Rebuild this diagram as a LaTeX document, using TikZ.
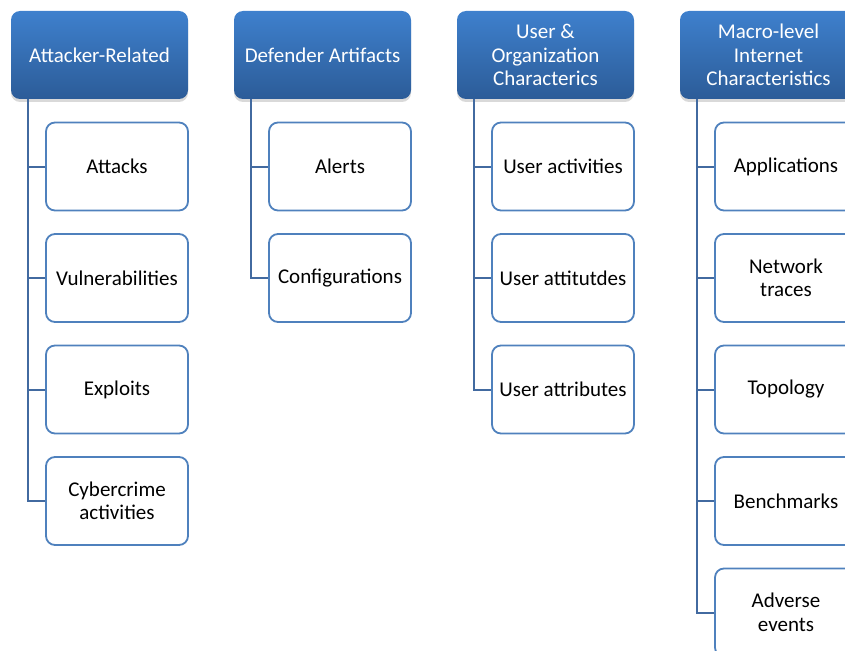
\documentclass[tikz,border=0pt]{standalone}
\usepackage{fontspec}
\setmainfont{Carlito}
\usetikzlibrary{shadows}
\definecolor{headtop}{RGB}{62,128,205}
\definecolor{headbot}{RGB}{44,92,152}
\definecolor{boxline}{RGB}{79,129,189}
\definecolor{treeline}{RGB}{66,106,160}

\begin{document}
\begin{tikzpicture}[x=1pt,y=-1pt,
	head/.style={rectangle,rounded corners=9pt,minimum width=177pt,minimum height=88pt,top color=headtop,bottom color=headbot,text=white,align=center,font=\fontsize{21}{23.5}\selectfont,drop shadow={opacity=0.3,shadow xshift=0pt,shadow yshift=-3pt}},
	leaf/.style={draw=boxline,line width=1.8pt,fill=white,rectangle,rounded corners=9pt,minimum width=142pt,minimum height=88pt,align=center,font=\fontsize{21}{23.5}\selectfont},
	tree/.style={draw=treeline,line width=2pt}]
		\useasboundingbox (0,0) rectangle (845,650);
		\clip (0,0) rectangle (845,650);
		%headers
		\node[head] (Att) at (99.5,55) {Attacker-Related};
		\node[head] (Def) at (322.5,55) {Defender Artifacts};
		\node[head] (Usr) at (545.5,55) {User \&\\Organization\\Characterics};
		\node[head] (Mac) at (768.5,55) {Macro-level\\Internet\\Characteristics};
		%attacker
		\node[leaf] (Atk) at (117,166.5) {Attacks};
		\node[leaf] (Vul) at (117,278) {Vulnerabilities};
		\node[leaf] (Exp) at (117,389.5) {Exploits};
		\node[leaf] (Cyb) at (117,501) {Cybercrime\\activities};
		%defender
		\node[leaf] (Alr) at (340,166.5) {Alerts};
		\node[leaf] (Cfg) at (340,278) {Configurations};
		%user
		\node[leaf] (UAct) at (563,166.5) {User activities};
		\node[leaf] (UAtt) at (563,278) {User attitutdes};
		\node[leaf] (UAtr) at (563,389.5) {User attributes};
		%macro
		\node[leaf] (App) at (786,166.5) {Applications};
		\node[leaf] (Net) at (786,278) {Network\\traces};
		\node[leaf] (Top) at (786,389.5) {Topology};
		\node[leaf] (Ben) at (786,501) {Benchmarks};
		\node[leaf] (Adv) at (786,612.5) {Adverse\\events};
		%tree lines
		\foreach \leafname in {Atk,Vul,Exp,Cyb}
			\draw[tree] ([xshift=17pt]Att.south west) |- (\leafname.west);
		\foreach \leafname in {Alr,Cfg}
			\draw[tree] ([xshift=17pt]Def.south west) |- (\leafname.west);
		\foreach \leafname in {UAct,UAtt,UAtr}
			\draw[tree] ([xshift=17pt]Usr.south west) |- (\leafname.west);
		\foreach \leafname in {App,Net,Top,Ben,Adv}
			\draw[tree] ([xshift=17pt]Mac.south west) |- (\leafname.west);
	\end{tikzpicture}
\end{document}
